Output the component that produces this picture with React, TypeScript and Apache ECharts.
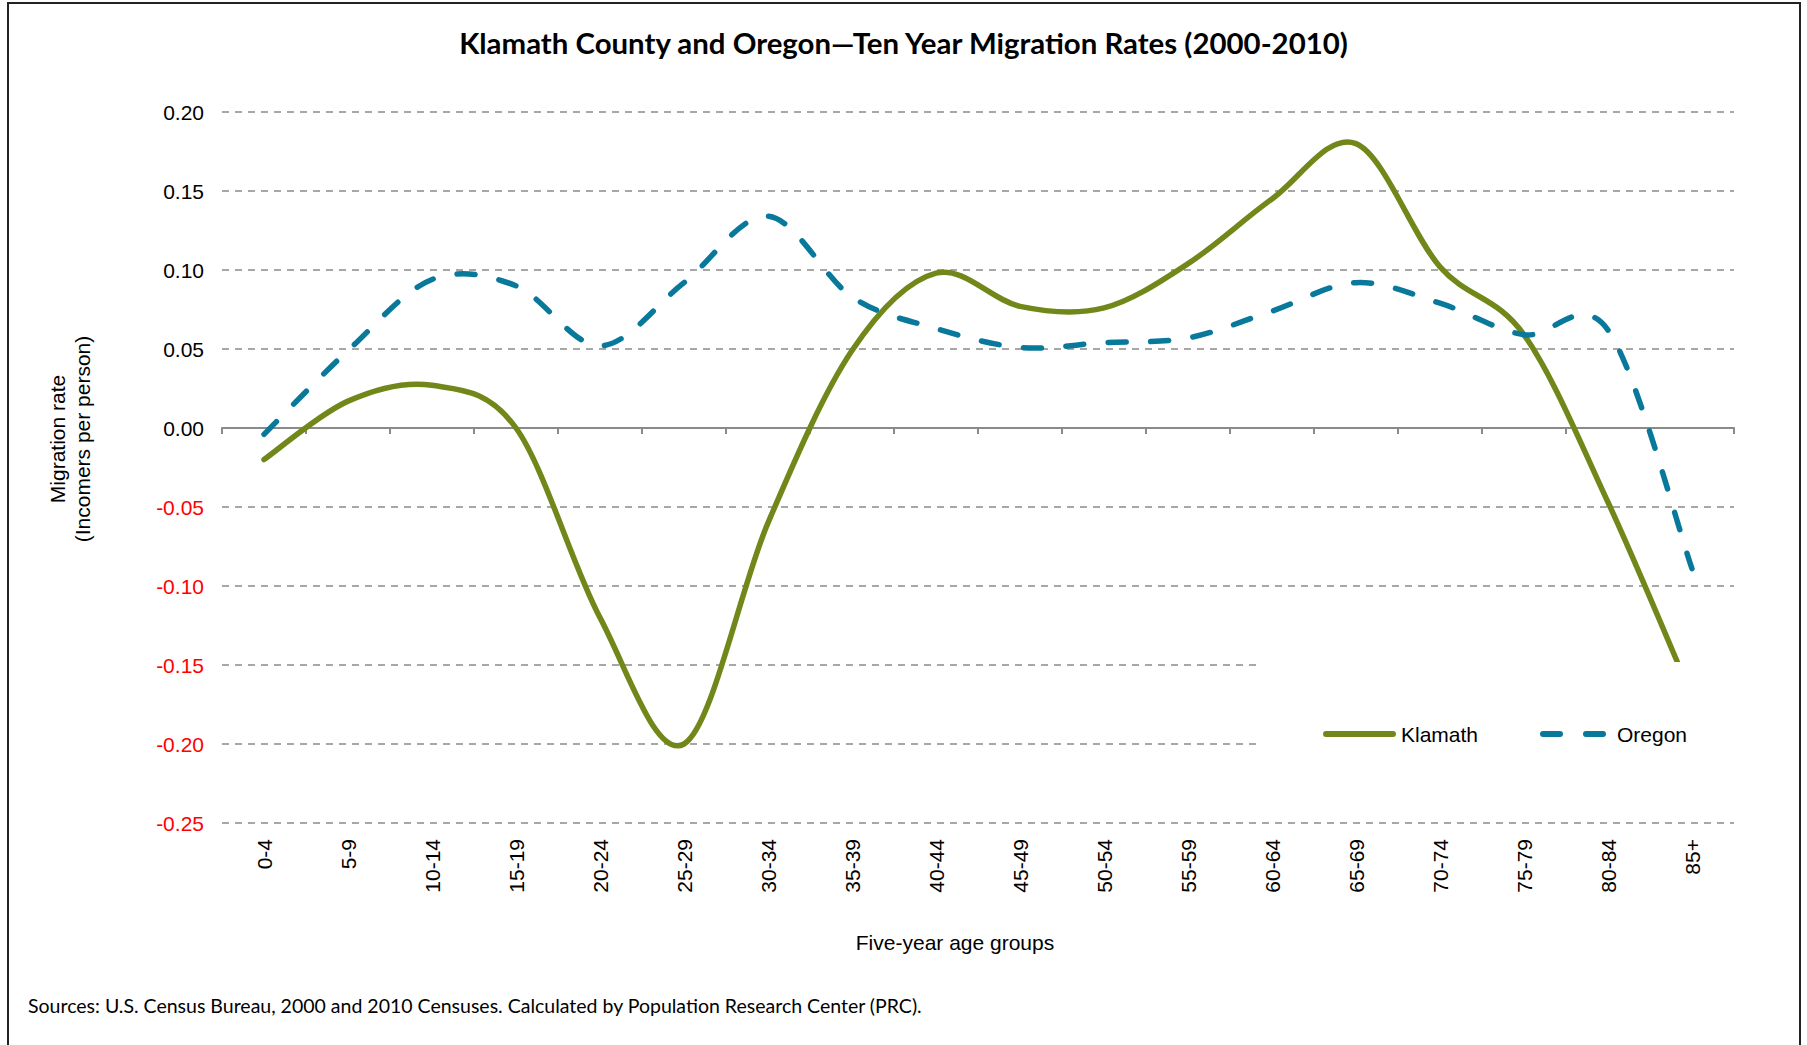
import React, { useEffect, useRef } from "react";
import * as echarts from "echarts";

const ageGroups = ["0-4", "5-9", "10-14", "15-19", "20-24", "25-29", "30-34", "35-39", "40-44", "45-49", "50-54", "55-59", "60-64", "65-69", "70-74", "75-79", "80-84", "85+"];
const klamath = [-0.02, 0.017, 0.027, 0.0, -0.12, -0.2, -0.06, 0.049, 0.098, 0.077, 0.076, 0.104, 0.145, 0.18, 0.102, 0.059, -0.047, -0.17];
const oregon = [-0.004, 0.049, 0.094, 0.09, 0.052, 0.092, 0.134, 0.083, 0.063, 0.051, 0.054, 0.057, 0.074, 0.092, 0.079, 0.059, 0.062, -0.089];

const titleText = "Klamath County and Oregon\u2014Ten Year Migration Rates (2000-2010)";
const sourceText = "Sources: U.S. Census Bureau, 2000 and 2010 Censuses. Calculated by Population Research Center (PRC).";
const yAxisTitle = "Migration rate\n(Incomers per person)";
const xAxisTitle = "Five-year age groups";

const KLAMATH_COLOR = "#71871A";
const OREGON_COLOR = "#08799A";
const GRID_COLOR = "#8A8A8A";
const AXIS_FONT = "'Liberation Sans', Arial, sans-serif";
const NOTE_FONT = "Lato, 'Open Sans', sans-serif";

// Catmull-Rom style smoothing (like a spreadsheet's "smoothed line"), drawn through axis coordinates.
function smoothPath(pts: number[][]): string {
  let d = `M${pts[0][0]},${pts[0][1]}`;
  for (let i = 0; i < pts.length - 1; i++) {
    const p0 = pts[i - 1] || pts[i];
    const p1 = pts[i];
    const p2 = pts[i + 1];
    const p3 = pts[i + 2] || pts[i + 1];
    const c1x = p1[0] + (p2[0] - p0[0]) / 6;
    const c1y = p1[1] + (p2[1] - p0[1]) / 6;
    const c2x = p2[0] - (p3[0] - p1[0]) / 6;
    const c2y = p2[1] - (p3[1] - p1[1]) / 6;
    d += ` C${c1x},${c1y} ${c2x},${c2y} ${p2[0]},${p2[1]}`;
  }
  return d;
}

function makeSeries(name: string, values: number[], color: string, dash: number[] | null) {
  return {
    name,
    type: "custom",
    xAxisIndex: 0,
    yAxisIndex: 0,
    z: 2,
    data: values.map((v, i) => [i, v]),
    encode: { x: 0, y: 1 },
    itemStyle: { color },
    renderItem: (params: any, api: any) => {
      if (params.dataIndex !== 0) return null;
      const pts = values.map((v, i) => api.coord([i, v]));
      return {
        type: "path",
        shape: { pathData: smoothPath(pts) },
        style: {
          fill: "none",
          stroke: color,
          lineWidth: 5.5,
          lineDash: dash || undefined,
          lineCap: "round",
          lineJoin: "round",
        },
      };
    },
  };
}

export default function App() {
  const ref = useRef<HTMLDivElement>(null);
  useEffect(() => {
    if (!ref.current) return;
    const chart = echarts.init(ref.current, null, { renderer: "svg" });
    chart.setOption({
      animation: false,
      backgroundColor: "#ffffff",
      title: {
        text: titleText,
        left: "center",
        top: 23,
        textStyle: { fontFamily: NOTE_FONT, fontWeight: "bold", fontSize: 29.4, color: "#000" },
      },
      grid: { left: 222, right: 73, top: 112, bottom: 222, containLabel: false },
      legend: [
        {
          left: 1323,
          top: 723,
          padding: 0,
          z: 6,
          itemWidth: 73,
          itemHeight: 6,
          textStyle: { fontFamily: AXIS_FONT, fontSize: 21, color: "#000", lineHeight: 22 },
          data: [
            {
              name: "Klamath",
              icon: "path://M3,0H70A3,3,0,0,1,70,6H3A3,3,0,0,1,3,0Z",
            },
          ],
        },
        {
          left: 1540,
          top: 723,
          padding: 0,
          z: 6,
          itemWidth: 66,
          itemHeight: 6,
          textStyle: { fontFamily: AXIS_FONT, fontSize: 21, color: "#000", lineHeight: 22, padding: [0, 0, 0, 6] },
          data: [
            {
              name: "Oregon",
              icon: "path://M3,0H20A3,3,0,0,1,20,6H3A3,3,0,0,1,3,0Z M46,0H63A3,3,0,0,1,63,6H46A3,3,0,0,1,46,0Z",
            },
          ],
        },
      ],
      xAxis: [
        {
          type: "category",
          data: ageGroups,
          position: "bottom",
          boundaryGap: true,
          axisLine: { show: false, onZero: false },
          axisTick: { show: false },
          axisLabel: { rotate: 90, margin: 16, fontFamily: AXIS_FONT, fontSize: 21, color: "#000" },
          splitLine: { show: false },
        },
        {
          type: "category",
          data: ageGroups,
          position: "bottom",
          boundaryGap: true,
          axisLine: { show: true, onZero: true, lineStyle: { color: GRID_COLOR, width: 2 } },
          axisTick: { show: true, length: 6, lineStyle: { color: GRID_COLOR, width: 2 } },
          axisLabel: { show: false },
          splitLine: { show: false },
        },
      ],
      yAxis: {
        type: "value",
        min: -0.25,
        max: 0.2,
        interval: 0.05,
        axisLine: { show: false },
        axisTick: { show: false },
        axisLabel: {
          margin: 18,
          fontFamily: AXIS_FONT,
          fontSize: 21,
          formatter: (v: number) => v.toFixed(2),
          color: (v: any) => (Number(v) < -1e-9 ? "#FF0000" : "#000000"),
        },
        splitLine: { show: true, lineStyle: { color: GRID_COLOR, width: 1.5, type: [7, 6] } },
      },
      graphic: [
        {
          type: "rect",
          z: 5,
          shape: { x: 1262, y: 662, width: 500, height: 130 },
          style: { fill: "#ffffff" },
          silent: true,
        },
        {
          type: "text",
          x: 70,
          y: 439,
          rotation: Math.PI / 2,
          style: {
            text: yAxisTitle,
            align: "center",
            verticalAlign: "middle",
            fontFamily: AXIS_FONT,
            fontSize: 21,
            lineHeight: 25,
            fill: "#000",
          },
        },
        {
          type: "text",
          x: 955,
          y: 942,
          style: {
            text: xAxisTitle,
            align: "center",
            verticalAlign: "middle",
            fontFamily: AXIS_FONT,
            fontSize: 21,
            fill: "#000",
          },
        },
        {
          type: "text",
          x: 28,
          y: 1005,
          style: {
            text: sourceText,
            align: "left",
            verticalAlign: "middle",
            fontFamily: NOTE_FONT,
            fontSize: 19.5,
            fill: "#000",
          },
        },
        {
          type: "polyline",
          z: 10,
          shape: { points: [[8, 1045], [8, 3], [1800, 3], [1800, 1045]] },
          style: { stroke: "#222", lineWidth: 2, fill: "none" },
          silent: true,
        },
      ],
      series: [
        makeSeries("Klamath", klamath, KLAMATH_COLOR, null),
        makeSeries("Oregon", oregon, OREGON_COLOR, [18, 24.5]),
      ],
    });
    return () => chart.dispose();
  }, []);
  return (
    <div
      ref={ref}
      style={{ position: "fixed", left: 0, top: 0, width: 1807, height: 1045, background: "#fff" }}
    />
  );
}
